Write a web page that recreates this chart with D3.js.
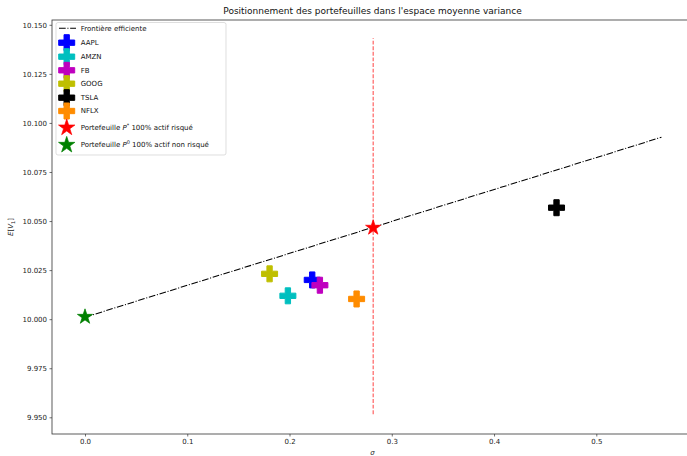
<!DOCTYPE html>
<html>
<head>
<meta charset="utf-8">
<script src="https://cdn.jsdelivr.net/npm/d3@7"></script>
<style>
  body { margin: 0; background: #fff; }
  svg { display: block; font-family: 'DejaVu Sans', sans-serif; }
</style>
</head>
<body>
<div id="chart"></div>
<script>
// Data
const tickers = ['AAPL', 'AMZN', 'FB', 'GOOG', 'TSLA', 'NFLX'];
const assetSigma = [0.2222, 0.1984, 0.2297, 0.1805, 0.4611, 0.2656];
const assetMean = [10.0200, 10.0119, 10.0173, 10.0231, 10.0568, 10.0103];
const assetColors = ['#0000ff', '#00bfbf', '#bf00bf', '#bfbf00', '#000000', '#ff8c00'];

const frontierSigma = [0, 0.5637];
const frontierMean = [10.0010, 10.0927];

const riskySigma = 0.2818;      // P* 100% actif risqué
const riskyMean = 10.0466;
const riskFreeSigma = 0;        // P0 100% actif non risqué
const riskFreeMean = 10.0012;

const vlineRange = [9.9516, 10.1432];

const xTicks = [0, 0.1, 0.2, 0.3, 0.4, 0.5];
const yTicks = [9.950, 9.975, 10.000, 10.025, 10.050, 10.075, 10.100, 10.125, 10.150];

const W = 687, H = 456;
const plot = { left: 52, right: 693, top: 20, bottom: 434 };

const svg = d3.select('#chart').append('svg')
  .attr('width', W)
  .attr('height', H);

svg.append('rect').attr('width', W).attr('height', H).attr('fill', '#fff');

// Scales
const x = d3.scaleLinear().domain([0, 0.5]).range([85, 596.3]);
const y = d3.scaleLinear().domain([9.95, 10.15]).range([417.3, 24.8]);

// Marker shapes
function plusPath(s) {
  const h = s / 2, a = s / 6;
  const pts = [[-a, -h], [a, -h], [a, -a], [h, -a], [h, a], [a, a], [a, h], [-a, h], [-a, a], [-h, a], [-h, -a], [-a, -a]];
  return 'M' + pts.map(p => p.join(',')).join('L') + 'Z';
}
function starPath(r) {
  const pts = [];
  for (let i = 0; i < 10; i++) {
    const rr = i % 2 === 0 ? r : r * 0.382;
    const ang = -Math.PI / 2 + i * Math.PI / 5;
    pts.push([rr * Math.cos(ang), rr * Math.sin(ang)]);
  }
  return 'M' + pts.map(p => p.map(v => v.toFixed(2)).join(',')).join('L') + 'Z';
}

svg.append('defs').append('clipPath').attr('id', 'clip')
  .append('rect')
  .attr('x', plot.left).attr('y', plot.top)
  .attr('width', plot.right - plot.left).attr('height', plot.bottom - plot.top);

const g = svg.append('g').attr('clip-path', 'url(#clip)');

// Efficient frontier
const line = d3.line().x(d => x(d[0])).y(d => y(d[1]));
g.append('path')
  .datum(frontierSigma.map((s, i) => [s, frontierMean[i]]))
  .attr('d', line)
  .attr('fill', 'none')
  .attr('stroke', '#000')
  .attr('stroke-width', 1.05)
  .attr('stroke-dasharray', '6.7,1.7,1.05,1.7');

// Assets
g.selectAll('path.asset')
  .data(tickers)
  .join('path')
  .attr('class', 'asset')
  .attr('d', plusPath(16))
  .attr('transform', (d, i) => `translate(${x(assetSigma[i])},${y(assetMean[i])})`)
  .attr('fill', (d, i) => assetColors[i])
  .attr('stroke', (d, i) => assetColors[i])
  .attr('stroke-width', 1);

// Vertical line at sigma of P*
g.append('line')
  .attr('x1', x(riskySigma)).attr('x2', x(riskySigma))
  .attr('y1', y(vlineRange[0])).attr('y2', y(vlineRange[1]))
  .attr('stroke', '#ff0000')
  .attr('stroke-opacity', 0.7)
  .attr('stroke-width', 1.05)
  .attr('stroke-dasharray', '3.9,1.7');

// Portfolios
g.append('path')
  .attr('d', starPath(8))
  .attr('transform', `translate(${x(riskySigma)},${y(riskyMean)})`)
  .attr('fill', '#ff0000').attr('stroke', '#ff0000').attr('stroke-width', 0.7);
g.append('path')
  .attr('d', starPath(8))
  .attr('transform', `translate(${x(riskFreeSigma)},${y(riskFreeMean)})`)
  .attr('fill', '#008000').attr('stroke', '#008000').attr('stroke-width', 0.7);

// Axes
const axisColor = '#333';
const xAxis = svg.append('g')
  .attr('transform', `translate(0,${plot.bottom})`)
  .call(d3.axisBottom(x).tickValues(xTicks).tickFormat(d3.format('.1f')).tickSize(2.5).tickPadding(2.5));
const yAxis = svg.append('g')
  .attr('transform', `translate(${plot.left},0)`)
  .call(d3.axisLeft(y).tickValues(yTicks).tickFormat(d3.format('.3f')).tickSize(2.5).tickPadding(2.5));
[xAxis, yAxis].forEach(a => {
  a.select('.domain').remove();
  a.selectAll('line').attr('stroke', axisColor).attr('stroke-width', 0.7);
  a.selectAll('text').attr('fill', '#222').attr('font-size', '7px')
    .attr('font-family', "'DejaVu Sans', sans-serif");
});

// Spines
svg.append('rect')
  .attr('x', plot.left).attr('y', plot.top)
  .attr('width', plot.right - plot.left).attr('height', plot.bottom - plot.top)
  .attr('fill', 'none').attr('stroke', axisColor).attr('stroke-width', 0.8);

// Title
svg.append('text')
  .attr('x', (plot.left + plot.right) / 2).attr('y', 14)
  .attr('text-anchor', 'middle')
  .attr('font-size', '9px').attr('fill', '#111')
  .text("Positionnement des portefeuilles dans l'espace moyenne variance");

// Axis labels
svg.append('text')
  .attr('x', (plot.left + plot.right) / 2).attr('y', 455)
  .attr('text-anchor', 'middle')
  .attr('font-size', '7px').attr('font-style', 'italic').attr('fill', '#222')
  .text('σ');

const yl = svg.append('text')
  .attr('transform', `translate(13,${(plot.top + plot.bottom) / 2}) rotate(-90)`)
  .attr('text-anchor', 'middle')
  .attr('font-size', '7px').attr('fill', '#222');
yl.append('tspan').attr('font-style', 'italic').text('E');
yl.append('tspan').text('[');
yl.append('tspan').attr('font-style', 'italic').text('V');
yl.append('tspan').attr('font-size', '5px').attr('dy', 1.5).text('1');
yl.append('tspan').attr('dy', -1.5).text(']');

// Legend
const legend = svg.append('g');
legend.append('rect')
  .attr('x', 56).attr('y', 22.5).attr('width', 170).attr('height', 132.5)
  .attr('rx', 2).attr('fill', '#fff').attr('fill-opacity', 0.8)
  .attr('stroke', '#d0d0d0').attr('stroke-width', 0.7);

const legendY = [28.3, 42.7, 56.7, 70.3, 83.7, 97.7, 111, 127.7, 145];
const markerX = 66.7, textX = 80.7;

legend.append('line')
  .attr('x1', 59).attr('x2', 76).attr('y1', legendY[0]).attr('y2', legendY[0])
  .attr('stroke', '#000').attr('stroke-width', 1.05)
  .attr('stroke-dasharray', '6.7,1.7,1.05,1.7');
legend.append('text')
  .attr('x', textX).attr('y', legendY[0]).attr('dy', '0.35em')
  .attr('font-size', '7px').attr('fill', '#111').text('Frontière efficiente');

tickers.forEach((t, i) => {
  const ly = legendY[i + 1];
  legend.append('path')
    .attr('d', plusPath(16))
    .attr('transform', `translate(${markerX},${ly})`)
    .attr('fill', assetColors[i]).attr('stroke', assetColors[i]).attr('stroke-width', 1);
  legend.append('text')
    .attr('x', textX).attr('y', ly).attr('dy', '0.35em')
    .attr('font-size', '7px').attr('fill', '#111').text(t);
});

const starEntries = [
  { color: '#ff0000', sup: '*', rest: ' 100% actif risqué' },
  { color: '#008000', sup: '0', rest: ' 100% actif non risqué' }
];
starEntries.forEach((e, i) => {
  const ly = legendY[7 + i];
  legend.append('path')
    .attr('d', starPath(8.6))
    .attr('transform', `translate(${markerX},${ly})`)
    .attr('fill', e.color).attr('stroke', e.color).attr('stroke-width', 0.7);
  const t = legend.append('text')
    .attr('x', textX).attr('y', ly).attr('dy', '0.35em')
    .attr('font-size', '7px').attr('fill', '#111');
  t.append('tspan').text('Portefeuille ');
  t.append('tspan').attr('font-style', 'italic').text('P');
  t.append('tspan').attr('font-size', '5px').attr('dy', -3).text(e.sup);
  t.append('tspan').attr('dy', 3).text(e.rest);
});
</script>
</body>
</html>
